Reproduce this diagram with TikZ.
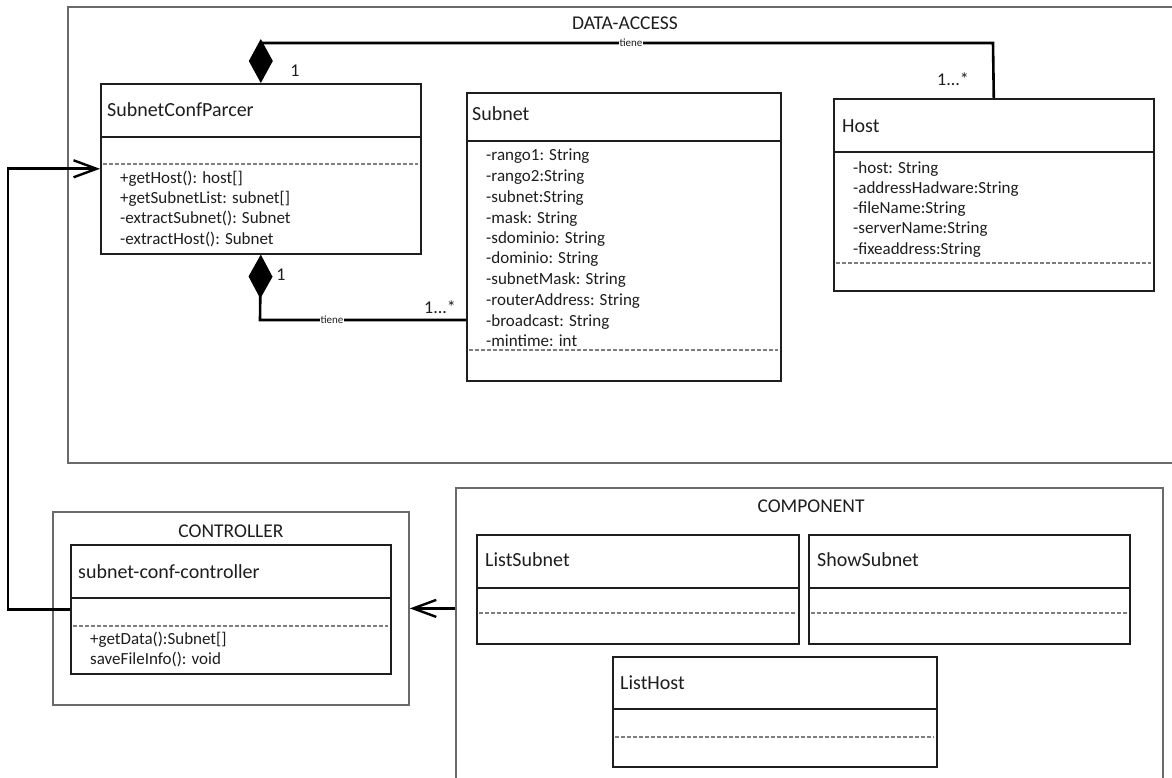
\documentclass[tikz,border=0pt]{standalone}
\usepackage{fontspec}
\setmainfont{Carlito}
\usetikzlibrary{arrows.meta}
\definecolor{ink}{HTML}{1E1E1E}
\definecolor{framegray}{HTML}{6A6A6A}
\definecolor{dashgray}{HTML}{7E7E7E}
\tikzset{
  frame/.style={draw=framegray, line width=1.8pt, inner sep=0pt, anchor=north west},
  classbox/.style={draw=ink, line width=1.6pt, inner sep=0pt, anchor=north west, fill=white},
  rule/.style={draw=ink, line width=1.6pt},
  sep/.style={draw=dashgray, line width=2.4pt, dash pattern=on 4pt off 2pt},
  ttl/.style={font=\fontsize{20}{24}\selectfont, text=ink, inner sep=0pt, anchor=base west, yshift=-6.4pt},
  pkg/.style={font=\fontsize{19.5}{23}\selectfont, text=ink, inner sep=0pt, anchor=base, yshift=-6.3pt},
  mem/.style={font=\fontsize{17}{20}\selectfont, text=ink, inner sep=0pt, anchor=base west, yshift=-5.5pt},
  mult/.style={font=\fontsize{18}{22}\selectfont, text=ink, inner sep=0pt, anchor=base, yshift=-5.8pt},
  role/.style={font=\fontsize{11}{13}\selectfont, text=ink, fill=white, inner sep=0.8pt},
  compo/.style={draw=black, line width=2.6pt, -{Diamond[length=44pt,width=24pt,fill=black]}},
  dep/.style={draw=black, line width=2.6pt, -{Straight Barb[length=23pt,width=17pt,line width=2.4pt]}},
}
\begin{document}
\begin{tikzpicture}[x=1pt,y=-1pt]
\path[use as bounding box, clip] (0,0) rectangle (1172,778);
\fill[white] (0,0) rectangle (1172,778);

% packages
\node[frame, minimum width=1120pt, minimum height=456pt] (da) at (67,6) {};
\node[pkg] (daname) at (625,23) {DATA-ACCESS};
\node[frame, minimum width=356pt, minimum height=193pt] (ctrl) at (52,511) {};
\node[pkg] (ctrlname) at (231,531) {CONTROLLER};
\node[frame, minimum width=707pt, minimum height=320pt] (comp) at (455,487) {};
\node[pkg] (compname) at (811,506) {COMPONENT};

% SubnetConfParcer
\node[classbox, minimum width=320pt, minimum height=170pt] (scp) at (100,83) {};
\draw[rule] (100,137) -- (420,137);
\draw[sep] (103,164) -- (418,164);
\node[ttl] (scpname) at (107,110) {SubnetConfParcer};
\foreach \t/\y [count=\i] in {{+getHost(): host[]}/178, {+getSubnetList: subnet[]}/198,
    {-extractSubnet(): Subnet}/218, {-extractHost(): Subnet}/239}
  \node[mem] (scpop\i) at (120,\y) {\t};

% Subnet
\node[classbox, minimum width=314pt, minimum height=288pt] (subnet) at (466,92) {};
\draw[rule] (466,141) -- (780,141);
\draw[sep] (469,350) -- (778,350);
\node[ttl] (subnetname) at (472,114) {Subnet};
\foreach \t/\y [count=\i] in {{-rango1: String}/155, {-rango2:String}/176, {-subnet:String}/197,
    {-mask: String}/218, {-sdominio: String}/238, {-dominio: String}/258,
    {-subnetMask: String}/279, {-routerAddress: String}/300, {-broadcast: String}/321,
    {-mintime: int}/341}
  \node[mem] (subnetattr\i) at (486,\y) {\t};

% Host
\node[classbox, minimum width=320pt, minimum height=192pt] (host) at (833,98) {};
\draw[rule] (833,152) -- (1153,152);
\draw[sep] (836,263) -- (1151,263);
\node[ttl] (hostname) at (842,126) {Host};
\foreach \t/\y [count=\i] in {{-host: String}/168, {-addressHadware:String}/188,
    {-fileName:String}/208, {-serverName:String}/228, {-fixeaddress:String}/249}
  \node[mem] (hostattr\i) at (853,\y) {\t};

% subnet-conf-controller
\node[classbox, minimum width=320pt, minimum height=129pt] (scc) at (70,544) {};
\draw[rule] (70,598) -- (390,598);
\draw[sep] (73,626) -- (388,626);
\node[ttl] (sccname) at (78,572) {subnet-conf-controller};
\foreach \t/\y [count=\i] in {{+getData():Subnet[]}/639, {saveFileInfo(): void}/659}
  \node[mem] (sccop\i) at (90,\y) {\t};

% components
\node[classbox, minimum width=322pt, minimum height=109pt] (ls) at (476,534) {};
\draw[rule] (476,588) -- (798,588);
\draw[sep] (479,613) -- (796,613);
\node[ttl] (lsname) at (485,560) {ListSubnet};

\node[classbox, minimum width=321pt, minimum height=109pt] (ss) at (808,534) {};
\draw[rule] (808,588) -- (1129,588);
\draw[sep] (811,613) -- (1127,613);
\node[ttl] (ssname) at (817,560) {ShowSubnet};

\node[classbox, minimum width=324pt, minimum height=110pt] (lh) at (612,656) {};
\draw[rule] (612,709) -- (936,709);
\draw[sep] (615,737) -- (934,737);
\node[ttl] (lhname) at (620,683) {ListHost};

% compositions
\coordinate (topbend) at (993,43);
\draw[compo] (host.north) -- (topbend) -| (scp.north);
\node[role] (tiene1) at (631,43) {tiene};
\node[mult] (m1) at (295,71) {1};
\node[mult] (m2) at (953,80) {1...*};

\coordinate (lowbend) at (260,320);
\draw[compo] (lowbend -| subnet.west) -- (lowbend) -- (scp.south);
\node[role] (tiene2) at (332,320) {tiene};
\node[mult] (m3) at (281,275) {1};
\node[mult] (m4) at (440,308) {1...*};

% dependencies
\coordinate (leftrail) at (8,0);
\draw[dep] (scc.west) -| (leftrail |- scp.west) -- (scp.west);
\draw[dep] (comp.west |- ctrl.east) -- (ctrl.east);
\end{tikzpicture}
\end{document}
